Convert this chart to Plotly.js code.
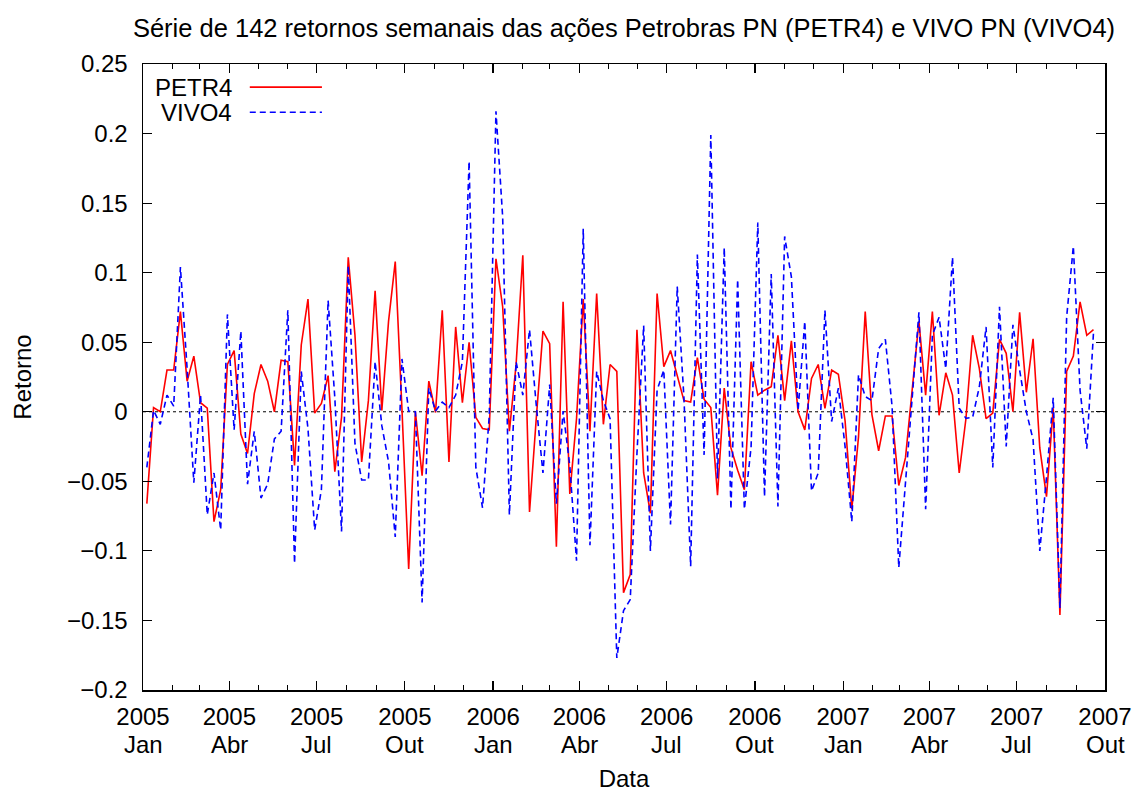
<!DOCTYPE html>
<html>
<head>
<meta charset="utf-8">
<script src="https://cdn.plot.ly/plotly-3.0.1.min.js"></script>
<style>html,body{margin:0;padding:0;background:#fff;}#chart{width:1136px;height:792px;}</style>
</head>
<body>
<div id="chart"></div>
<script>
// Weekly returns, 142 weeks starting 2005-01-05
const startDate = "2005-01-05";
const nWeeks = 142;

const petr4 = [
 -0.066, 0.003, 0.000, 0.030, 0.030, 0.072, 0.022, 0.040, 0.0065, 0.0026,
 -0.079, -0.056, 0.034, 0.044, -0.016, -0.030, 0.013, 0.034, 0.022, 0.000,
 0.037, 0.036, -0.0385, 0.048, 0.081, -0.001, 0.006, 0.026, -0.043, -0.004,
 0.111, 0.055, -0.036, 0.008, 0.087, 0.001, 0.065, 0.108, 0.002, -0.113,
 0.000, -0.046, 0.022, -0.0005, 0.073, -0.036, 0.061, 0.0065, 0.050, -0.004,
 -0.012, -0.013, 0.110, 0.0755, -0.014, 0.034, 0.1125, -0.072, -0.005, 0.058,
 0.049, -0.097, 0.079, -0.059, -0.005, 0.081, -0.014, 0.085, -0.009, 0.034,
 0.029, -0.130, -0.117, 0.059, -0.044, -0.073, 0.085, 0.0325, 0.044, 0.026,
 0.008, 0.007, 0.039, 0.009, 0.003, -0.060, 0.017, -0.026, -0.042, -0.056,
 0.036, 0.012, 0.0155, 0.018, 0.055, 0.008, 0.051, 0.000, -0.013, 0.024,
 0.034, 0.0025, 0.030, 0.027, -0.0065, -0.070, -0.018, 0.072, -0.002, -0.028,
 -0.003, -0.003, -0.053, -0.033, 0.0155, 0.065, 0.012, 0.072, -0.0025, 0.028,
 0.012, -0.044, -0.005, 0.055, 0.031, -0.005, -0.001, 0.052, 0.042, 0.000,
 0.0715, 0.014, 0.0525, -0.026, -0.061, 0.0026, -0.146, 0.029, 0.040, 0.079,
 0.055, 0.059
];

const vivo4 = [
 -0.040, 0.001, -0.009, 0.012, 0.004, 0.104, 0.031, -0.051, 0.012, -0.074,
 -0.044, -0.085, 0.070, -0.013, 0.058, -0.052, -0.014, -0.062, -0.052, -0.0195,
 -0.014, 0.073, -0.109, 0.029, -0.012, -0.085, -0.056, 0.080, 0.010, -0.086,
 0.105, -0.023, -0.049, -0.049, 0.036, -0.010, -0.036, -0.090, 0.038, 0.0005,
 0.000, -0.137, 0.017, 0.0005, 0.007, 0.003, 0.012, 0.036, 0.180, -0.040,
 -0.069, -0.003, 0.216, 0.140, -0.074, 0.036, 0.012, 0.059, 0.005, -0.044,
 0.0195, -0.066, 0.0005, -0.039, -0.107, 0.1315, -0.096, 0.029, 0.008, -0.005,
 -0.177, -0.143, -0.135, -0.030, 0.062, -0.100, 0.0155, 0.030, -0.081, 0.090,
 0.010, -0.111, 0.113, -0.031, 0.199, -0.048, 0.118, -0.070, 0.095, -0.070,
 -0.0255, 0.136, -0.061, 0.099, -0.068, 0.126, 0.097, 0.001, 0.065, -0.057,
 -0.044, 0.073, -0.007, 0.017, -0.025, -0.079, 0.0265, 0.011, 0.008, 0.0455,
 0.052, 0.004, -0.112, -0.050, 0.010, 0.0715, -0.070, 0.055, 0.068, 0.031,
 0.111, 0.0026, -0.0047, -0.004, 0.018, 0.061, -0.040, 0.0755, -0.025, 0.0625,
 0.030, 0.000, -0.020, -0.100, -0.047, 0.010, -0.141, 0.068, 0.119, 0.0155,
 -0.0265, 0.057
];

const tickDates = ["2005-01-01","2005-04-01","2005-07-01","2005-10-01",
                   "2006-01-01","2006-04-01","2006-07-01","2006-10-01",
                   "2007-01-01","2007-04-01","2007-07-01","2007-10-01"];
const tickYears = ["2005","2005","2005","2005","2006","2006","2006","2006","2007","2007","2007","2007"];
const tickMonths = ["Jan","Abr","Jul","Out","Jan","Abr","Jul","Out","Jan","Abr","Jul","Out"];
const yTickVals = [-0.2,-0.15,-0.1,-0.05,0,0.05,0.1,0.15,0.2,0.25];
const yTickText = ["\u22120.2","\u22120.15","\u22120.1","\u22120.05","0","0.05","0.1","0.15","0.2","0.25"];

const dates = [];
const d0 = new Date(startDate + "T00:00:00Z");
for (let i = 0; i < nWeeks; i++) {
  const d = new Date(d0.getTime() + i * 7 * 86400000);
  dates.push(d.toISOString().slice(0, 10));
}

const FONT = "Liberation Sans, Arial, Helvetica, sans-serif";
const FS = 24;

const traces = [
  {x: dates, y: petr4, type: "scatter", mode: "lines", name: "PETR4",
   line: {color: "#ff0000", width: 1.6}, showlegend: false},
  {x: dates, y: vivo4, type: "scatter", mode: "lines", name: "VIVO4",
   line: {color: "#0000ff", width: 1.6, dash: "6px,4px"}, showlegend: false}
];

const annotations = tickDates.map((d, i) => ({
  x: d, xref: "x", y: -0.0877, yref: "paper", text: tickMonths[i],
  showarrow: false, font: {family: FONT, size: FS, color: "#000"},
  xanchor: "center", yanchor: "middle", borderpad: 0
}));
annotations.push({x: 0.0946, xref: "paper", y: 0.963, yref: "paper", text: "PETR4",
  showarrow: false, xanchor: "right", yanchor: "middle", font: {family: FONT, size: FS, color: "#000"}});
annotations.push({x: 0.0946, xref: "paper", y: 0.923, yref: "paper", text: "VIVO4",
  showarrow: false, xanchor: "right", yanchor: "middle", font: {family: FONT, size: FS, color: "#000"}});

const shapes = [
  {type: "line", xref: "paper", x0: 0, x1: 1, yref: "y", y0: 0, y1: 0,
   line: {color: "#000", width: 1, dash: "dot"}, layer: "below"},
  {type: "line", xref: "paper", x0: 0.111, x1: 0.186, yref: "paper", y0: 0.963, y1: 0.963,
   line: {color: "#ff0000", width: 1.6}},
  {type: "line", xref: "paper", x0: 0.111, x1: 0.186, yref: "paper", y0: 0.923, y1: 0.923,
   line: {color: "#0000ff", width: 1.6, dash: "6px,4px"}}
];

const layout = {
  width: 1136, height: 792,
  margin: {l: 143, r: 31, t: 64, b: 102},
  paper_bgcolor: "#fff", plot_bgcolor: "#fff",
  font: {family: FONT, size: FS, color: "#000"},
  title: {text: "Série de 142 retornos semanais das ações Petrobras PN (PETR4) e VIVO PN (VIVO4)",
          x: 0.5493, xanchor: "center", y: 0.965, yanchor: "middle",
          font: {family: FONT, size: 25.5, color: "#000"}},
  xaxis: {
    type: "date", range: ["2005-01-01", "2007-10-01"],
    tickmode: "array", tickvals: tickDates, ticktext: tickYears,
    ticks: "inside", ticklen: 9, tickwidth: 1.2, tickcolor: "#000",
    ticklabelstandoff: 5,
    minor: {dtick: "M1", tick0: "2005-01-01", ticks: "inside", ticklen: 5, tickwidth: 1, tickcolor: "#000"},
    showline: true, linecolor: "#000", linewidth: 1.5, mirror: "ticks",
    showgrid: false, zeroline: false,
    tickfont: {family: FONT, size: FS, color: "#000"},
    title: {text: "Data", font: {family: FONT, size: FS, color: "#000"}, standoff: 53}
  },
  yaxis: {
    range: [-0.2, 0.25],
    tickmode: "array", tickvals: yTickVals, ticktext: yTickText,
    ticks: "inside", ticklen: 9, tickwidth: 1.2, tickcolor: "#000",
    ticklabelstandoff: 9,
    showline: true, linecolor: "#000", linewidth: 1.5, mirror: "ticks",
    showgrid: false, zeroline: false,
    tickfont: {family: FONT, size: FS, color: "#000"},
    title: {text: "Retorno", font: {family: FONT, size: FS, color: "#000"}, standoff: 28}
  },
  annotations: annotations,
  shapes: shapes,
  showlegend: false
};

Plotly.newPlot("chart", traces, layout, {displayModeBar: false, staticPlot: true});
</script>
</body>
</html>
